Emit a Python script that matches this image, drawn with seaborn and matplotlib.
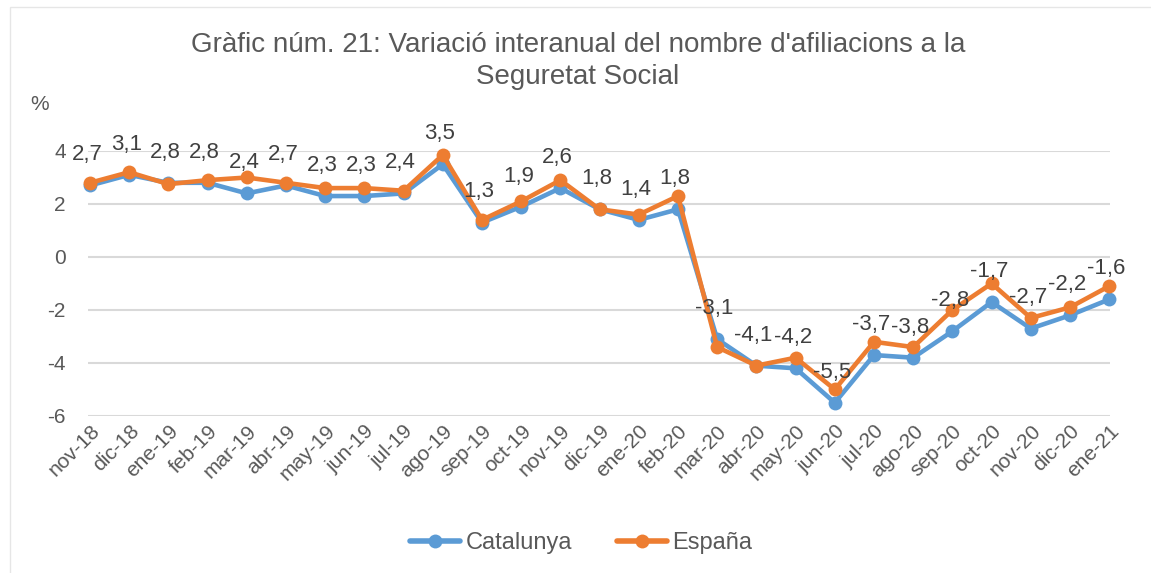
import numpy as np
import pandas as pd
import seaborn as sns
import matplotlib.pyplot as plt
from matplotlib.patches import Rectangle

# Monthly year-on-year change in Social Security affiliations (%)
months = ['nov-18', 'dic-18', 'ene-19', 'feb-19', 'mar-19', 'abr-19', 'may-19',
          'jun-19', 'jul-19', 'ago-19', 'sep-19', 'oct-19', 'nov-19', 'dic-19',
          'ene-20', 'feb-20', 'mar-20', 'abr-20', 'may-20', 'jun-20', 'jul-20',
          'ago-20', 'sep-20', 'oct-20', 'nov-20', 'dic-20', 'ene-21']
catalunya = [2.7, 3.1, 2.8, 2.8, 2.4, 2.7, 2.3, 2.3, 2.4, 3.5, 1.3, 1.9, 2.6, 1.8,
             1.4, 1.8, -3.1, -4.1, -4.2, -5.5, -3.7, -3.8, -2.8, -1.7, -2.7, -2.2, -1.6]
espana = [2.8, 3.2, 2.75, 2.9, 3.0, 2.8, 2.6, 2.6, 2.5, 3.85, 1.4, 2.1, 2.9, 1.8,
          1.6, 2.3, -3.4, -4.1, -3.8, -5.0, -3.2, -3.4, -2.0, -1.0, -2.3, -1.9, -1.1]

df = pd.DataFrame({
    'idx': list(range(len(months))) * 2,
    'value': catalunya + espana,
    'serie': ['Catalunya'] * len(months) + ['España'] * len(months),
})

sns.set_theme(style='white')
plt.rcParams['font.family'] = ['Liberation Sans', 'DejaVu Sans']
plt.rcParams['axes.unicode_minus'] = False
txt = '#595959'

fig = plt.figure(figsize=(11.51, 5.73), dpi=100)
ax = fig.add_axes([88 / 1151, 1 - 416 / 573, (1110 - 88) / 1151, (416 - 151) / 573])

sns.lineplot(data=df, x='idx', y='value', hue='serie', ax=ax,
             palette=['#5B9BD5', '#ED7D31'], marker='o', markersize=10,
             markeredgewidth=0, linewidth=3.3, clip_on=False)

ax.set_xlim(-0.05, len(months) - 1 + 0.02)
ax.set_ylim(-6, 4)
ax.set_yticks([-6, -4, -2, 0, 2, 4])
ax.yaxis.grid(True, color='#D9D9D9', linewidth=1.5)
ax.set_xticks(range(len(months)))
ax.set_xticklabels(months, rotation=45, ha='right', rotation_mode='anchor',
                   fontsize=15, color=txt)
ax.tick_params(axis='y', labelsize=15, colors=txt, length=0, pad=16)
ax.tick_params(axis='x', length=0, pad=4)
for s in ax.spines.values():
    s.set_visible(False)
ax.set_xlabel('')
ax.set_ylabel('')

# data labels (Catalunya)
for i, v in enumerate(catalunya):
    ax.annotate(f'{v:.1f}'.replace('.', ','), (i, v), xytext=(-2, 22),
                textcoords='offset points', ha='center', va='center',
                fontsize=16, color='#404040')

fig.text(30 / 1151, 1 - 105 / 573, '%', fontsize=15, color=txt, va='center')
fig.text(0.502, 1 - 61 / 573,
         "Gràfic núm. 21: Variació interanual del nombre d'afiliacions a la\nSeguretat Social",
         ha='center', va='center', fontsize=20, color=txt, linespacing=1.3)

leg = ax.legend(loc='center', bbox_to_anchor=(0.505, 1 - 543 / 573), bbox_transform=fig.transFigure,
                ncol=2, frameon=False, fontsize=17, handlelength=2.1, columnspacing=1.9,
                handletextpad=0.25)
for t in leg.get_texts():
    t.set_color(txt)
for h in leg.legend_handles:
    h.set_markersize(10)
    h.set_linewidth(4)

fig.patches.append(Rectangle((10 / 1151, -0.01), 1.0, 1 - 7 / 573 + 0.01, transform=fig.transFigure,
                             fill=False, edgecolor='#E6E6E6', linewidth=1))

fig.savefig('out.png', dpi=100)
